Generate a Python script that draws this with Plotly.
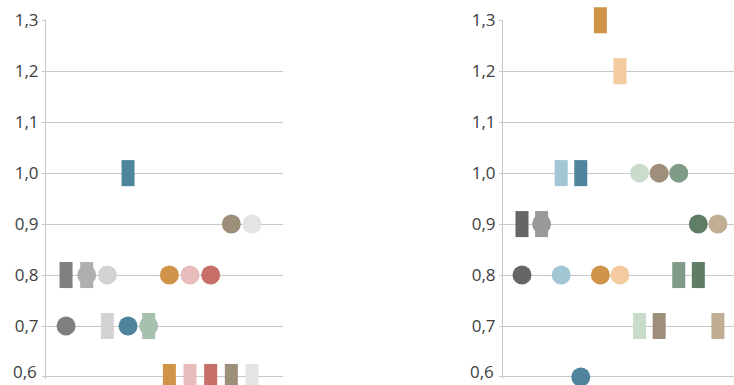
import plotly.graph_objects as go

# Left panel: one rectangle value and one circle value per series
left_colors = ["#7f7f7f", "#afafaf", "#d3d3d3", "#4f849d", "#a8c0ae",
               "#cf9447", "#e8bcbb", "#c66f66", "#9d8f7a", "#e3e4e3"]
left_rect = [0.8, 0.8, 0.7, 1.0, 0.7, 0.6, 0.6, 0.6, 0.6, 0.6]
left_circle = [0.7, 0.8, 0.8, 0.7, 0.7, 0.8, 0.8, 0.8, 0.9, 0.9]

# Right panel
right_colors = ["#666666", "#999999", "#a3c6d4", "#4f849d", "#cf9447", "#f4cba0",
                "#c9dccc", "#9d8f7a", "#7f9a86", "#5f7c64", "#bfae93"]
right_rect = [0.9, 0.9, 1.0, 1.0, 1.3, 1.2, 0.7, 0.7, 0.8, 0.8, 0.7]
right_circle = [0.8, 0.9, 0.8, 0.6, 0.8, 0.8, 1.0, 1.0, 1.0, 0.9, 0.9]

y_ticks = [0.6, 0.7, 0.8, 0.9, 1.0, 1.1, 1.2, 1.3]


def fmt(v):
    return f"{v:.1f}".replace(".", ",")


# the lowest label is lifted so it stays inside the chart; the others sit on their ticks
y_ticktext = [""] + [fmt(v) for v in y_ticks[1:]]

CIRCLE_SIZE = 19
RECT_SIZE = 18.6    # line-ns symbol: stroke length is 1.4 x size
RECT_WIDTH = 13
LABEL_FONT = dict(family="Open Sans", size=17, color="#404040")

fig = go.Figure()


def add_panel(colors, rects, circles, xa, ya):
    idx = list(range(len(colors)))
    # upright rectangles drawn as thick vertical line markers
    fig.add_trace(go.Scatter(
        x=idx, y=rects, mode="markers",
        marker=dict(symbol="line-ns", size=RECT_SIZE, color=colors,
                    line=dict(width=RECT_WIDTH, color=colors)),
        cliponaxis=False, xaxis=xa, yaxis=ya, hoverinfo="skip", showlegend=False,
    ))
    fig.add_trace(go.Scatter(
        x=idx, y=circles, mode="markers",
        marker=dict(color=colors, size=CIRCLE_SIZE, line=dict(width=0)),
        cliponaxis=False, xaxis=xa, yaxis=ya, hoverinfo="skip", showlegend=False,
    ))
    fig.add_annotation(
        text=fmt(y_ticks[0]), xref=f"{xa} domain", x=0, yref=ya, y=y_ticks[0],
        xanchor="right", yanchor="middle", xshift=-7, yshift=5,
        showarrow=False, font=LABEL_FONT,
    )


add_panel(left_colors, left_rect, left_circle, "x", "y")
add_panel(right_colors, right_rect, right_circle, "x2", "y2")

yaxis_style = dict(
    range=[0.596, 1.3005], tickvals=y_ticks, ticktext=y_ticktext,
    showgrid=True, gridcolor="#c8c8c8", gridwidth=1,
    showline=True, linecolor="#c8c8c8", linewidth=1,
    ticks="outside", ticklen=3, tickcolor="#c8c8c8",
    zeroline=False, automargin=False,
    tickfont=LABEL_FONT,
)
xaxis_style = dict(showgrid=False, showline=False, zeroline=False,
                   showticklabels=False, ticks="", automargin=False)

fig.update_layout(
    width=734, height=385,
    margin=dict(l=0, r=0, t=20, b=6),
    paper_bgcolor="white", plot_bgcolor="white",
    xaxis=dict(domain=[46 / 734, 283 / 734], range=[-0.97, 10.5], **xaxis_style),
    xaxis2=dict(domain=[503 / 734, 1.0], range=[-0.97, 10.82], **xaxis_style),
    yaxis=dict(anchor="x", **yaxis_style),
    yaxis2=dict(anchor="x2", **yaxis_style),
)

fig.write_html("out.html")
